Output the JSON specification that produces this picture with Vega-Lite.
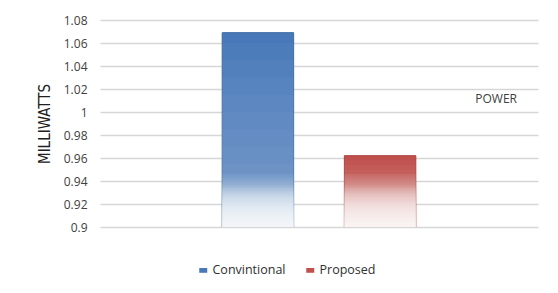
{
  "$schema": "https://vega.github.io/schema/vega-lite/v6.json",
  "autosize": "none",
  "width": 438,
  "height": 207,
  "padding": {"left": 100, "top": 20, "right": 20, "bottom": 66},
  "background": "white",
  "config": {
    "view": {"stroke": null},
    "font": "Open Sans",
    "axis": {"labelFont": "Open Sans"}
  },
  "title": {
    "text": "POWER",
    "anchor": "end",
    "frame": "group",
    "orient": "top",
    "dx": -21,
    "dy": 96,
    "fontSize": 12,
    "fontWeight": "normal",
    "font": "Open Sans",
    "color": "#404040"
  },
  "data": {
    "values": [
      {"Series": "Convintional", "Power": 1.069},
      {"Series": "Proposed", "Power": 0.962}
    ]
  },
  "encoding": {
    "x": {
      "field": "Series",
      "type": "nominal",
      "sort": ["Convintional", "Proposed"],
      "axis": null,
      "scale": {"paddingInner": 0.415, "paddingOuter": 1.063}
    },
    "y": {
      "field": "Power",
      "type": "quantitative",
      "scale": {"domain": [0.9, 1.08], "zero": false, "nice": false},
      "axis": {
        "title": "MILLIWATTS",
        "titleFont": "DejaVu Sans Condensed",
        "titleFontSize": 15,
        "titleFontWeight": "normal",
        "titleColor": "#202020",
        "titlePadding": 11,
        "values": [0.9, 0.92, 0.94, 0.96, 0.98, 1, 1.02, 1.04, 1.06, 1.08],
        "format": "~g",
        "labelFontSize": 12,
        "labelColor": "#404040",
        "labelPadding": 13,
        "ticks": false,
        "domain": false,
        "grid": true,
        "gridColor": "#d6d6d6",
        "gridWidth": 1.5
      }
    }
  },
  "layer": [
    {
      "mark": {"type": "bar", "clip": true, "strokeWidth": 1},
      "encoding": {
        "fill": {
          "field": "Series",
          "type": "nominal",
          "scale": {"domain": ["Convintional", "Proposed"], "range": ["#4878b9", "#c0504d"]},
          "legend": {
            "title": null,
            "orient": "none",
            "direction": "horizontal",
            "legendX": 97,
            "legendY": 244,
            "symbolType": "M-1,-0.6H1V0.6H-1Z",
            "symbolSize": 64,
            "symbolStrokeWidth": 0,
            "labelFont": "Open Sans",
            "labelFontSize": 12.5,
            "labelColor": "#303030",
            "columnPadding": 18,
            "labelOffset": 3
          }
        },
        "stroke": {
          "field": "Series",
          "type": "nominal",
          "scale": {"domain": ["Convintional", "Proposed"], "range": ["#3b6aa6", "#a8403d"]},
          "legend": null
        }
      }
    },
    {"transform": [{"filter": "datum.Series === 'Convintional'"}], "mark": {"type": "bar", "fill": "white", "opacity": 0.03}, "encoding": {"y": {"datum": 1.06}, "y2": {"datum": 0.9}}},
    {"transform": [{"filter": "datum.Series === 'Convintional'"}], "mark": {"type": "bar", "fill": "white", "opacity": 0.03}, "encoding": {"y": {"datum": 1.045}, "y2": {"datum": 0.9}}},
    {"transform": [{"filter": "datum.Series === 'Convintional'"}], "mark": {"type": "bar", "fill": "white", "opacity": 0.03}, "encoding": {"y": {"datum": 1.03}, "y2": {"datum": 0.9}}},
    {"transform": [{"filter": "datum.Series === 'Convintional'"}], "mark": {"type": "bar", "fill": "white", "opacity": 0.03}, "encoding": {"y": {"datum": 1.015}, "y2": {"datum": 0.9}}},
    {"transform": [{"filter": "datum.Series === 'Convintional'"}], "mark": {"type": "bar", "fill": "white", "opacity": 0.03}, "encoding": {"y": {"datum": 1.0}, "y2": {"datum": 0.9}}},
    {"transform": [{"filter": "datum.Series === 'Convintional'"}], "mark": {"type": "bar", "fill": "white", "opacity": 0.03}, "encoding": {"y": {"datum": 0.985}, "y2": {"datum": 0.9}}},
    {"transform": [{"filter": "datum.Series === 'Convintional'"}], "mark": {"type": "bar", "fill": "white", "opacity": 0.03}, "encoding": {"y": {"datum": 0.97}, "y2": {"datum": 0.9}}},
    {"transform": [{"filter": "datum.Series === 'Convintional'"}], "mark": {"type": "bar", "fill": "white", "opacity": 0.03}, "encoding": {"y": {"datum": 0.955}, "y2": {"datum": 0.9}}},
    {"transform": [{"filter": "datum.Series === 'Proposed'"}], "mark": {"type": "bar", "fill": "white", "opacity": 0.03}, "encoding": {"y": {"datum": 0.958}, "y2": {"datum": 0.9}}},
    {"transform": [{"filter": "datum.Series === 'Proposed'"}], "mark": {"type": "bar", "fill": "white", "opacity": 0.03}, "encoding": {"y": {"datum": 0.954}, "y2": {"datum": 0.9}}},
    {"transform": [{"filter": "datum.Series === 'Proposed'"}], "mark": {"type": "bar", "fill": "white", "opacity": 0.03}, "encoding": {"y": {"datum": 0.95}, "y2": {"datum": 0.9}}},
    {"transform": [{"filter": "datum.Series === 'Proposed'"}], "mark": {"type": "bar", "fill": "white", "opacity": 0.03}, "encoding": {"y": {"datum": 0.946}, "y2": {"datum": 0.9}}},
    {"mark": {"type": "bar", "fill": "white", "opacity": 0.06}, "encoding": {"y": {"datum": 0.946}, "y2": {"datum": 0.9}}},
    {"mark": {"type": "bar", "fill": "white", "opacity": 0.06}, "encoding": {"y": {"datum": 0.944}, "y2": {"datum": 0.9}}},
    {"mark": {"type": "bar", "fill": "white", "opacity": 0.06}, "encoding": {"y": {"datum": 0.942}, "y2": {"datum": 0.9}}},
    {"mark": {"type": "bar", "fill": "white", "opacity": 0.06}, "encoding": {"y": {"datum": 0.94}, "y2": {"datum": 0.9}}},
    {"mark": {"type": "bar", "fill": "white", "opacity": 0.06}, "encoding": {"y": {"datum": 0.938}, "y2": {"datum": 0.9}}},
    {"mark": {"type": "bar", "fill": "white", "opacity": 0.13}, "encoding": {"y": {"datum": 0.936}, "y2": {"datum": 0.9}}},
    {"mark": {"type": "bar", "fill": "white", "opacity": 0.13}, "encoding": {"y": {"datum": 0.934}, "y2": {"datum": 0.9}}},
    {"mark": {"type": "bar", "fill": "white", "opacity": 0.13}, "encoding": {"y": {"datum": 0.932}, "y2": {"datum": 0.9}}},
    {"mark": {"type": "bar", "fill": "white", "opacity": 0.13}, "encoding": {"y": {"datum": 0.93}, "y2": {"datum": 0.9}}},
    {"mark": {"type": "bar", "fill": "white", "opacity": 0.13}, "encoding": {"y": {"datum": 0.928}, "y2": {"datum": 0.9}}},
    {"mark": {"type": "bar", "fill": "white", "opacity": 0.13}, "encoding": {"y": {"datum": 0.926}, "y2": {"datum": 0.9}}},
    {"mark": {"type": "bar", "fill": "white", "opacity": 0.13}, "encoding": {"y": {"datum": 0.924}, "y2": {"datum": 0.9}}},
    {"mark": {"type": "bar", "fill": "white", "opacity": 0.13}, "encoding": {"y": {"datum": 0.922}, "y2": {"datum": 0.9}}},
    {"mark": {"type": "bar", "fill": "white", "opacity": 0.13}, "encoding": {"y": {"datum": 0.92}, "y2": {"datum": 0.9}}},
    {"mark": {"type": "bar", "fill": "white", "opacity": 0.13}, "encoding": {"y": {"datum": 0.918}, "y2": {"datum": 0.9}}},
    {"mark": {"type": "bar", "fill": "white", "opacity": 0.13}, "encoding": {"y": {"datum": 0.916}, "y2": {"datum": 0.9}}},
    {"mark": {"type": "bar", "fill": "white", "opacity": 0.13}, "encoding": {"y": {"datum": 0.914}, "y2": {"datum": 0.9}}},
    {"mark": {"type": "bar", "fill": "white", "opacity": 0.13}, "encoding": {"y": {"datum": 0.912}, "y2": {"datum": 0.9}}},
    {"mark": {"type": "bar", "fill": "white", "opacity": 0.13}, "encoding": {"y": {"datum": 0.91}, "y2": {"datum": 0.9}}},
    {"mark": {"type": "bar", "fill": "white", "opacity": 0.13}, "encoding": {"y": {"datum": 0.908}, "y2": {"datum": 0.9}}},
    {"mark": {"type": "bar", "fill": "white", "opacity": 0.13}, "encoding": {"y": {"datum": 0.906}, "y2": {"datum": 0.9}}},
    {"mark": {"type": "bar", "fill": "white", "opacity": 0.13}, "encoding": {"y": {"datum": 0.904}, "y2": {"datum": 0.9}}},
    {"mark": {"type": "bar", "fill": "white", "opacity": 0.13}, "encoding": {"y": {"datum": 0.902}, "y2": {"datum": 0.9}}}
  ]
}
